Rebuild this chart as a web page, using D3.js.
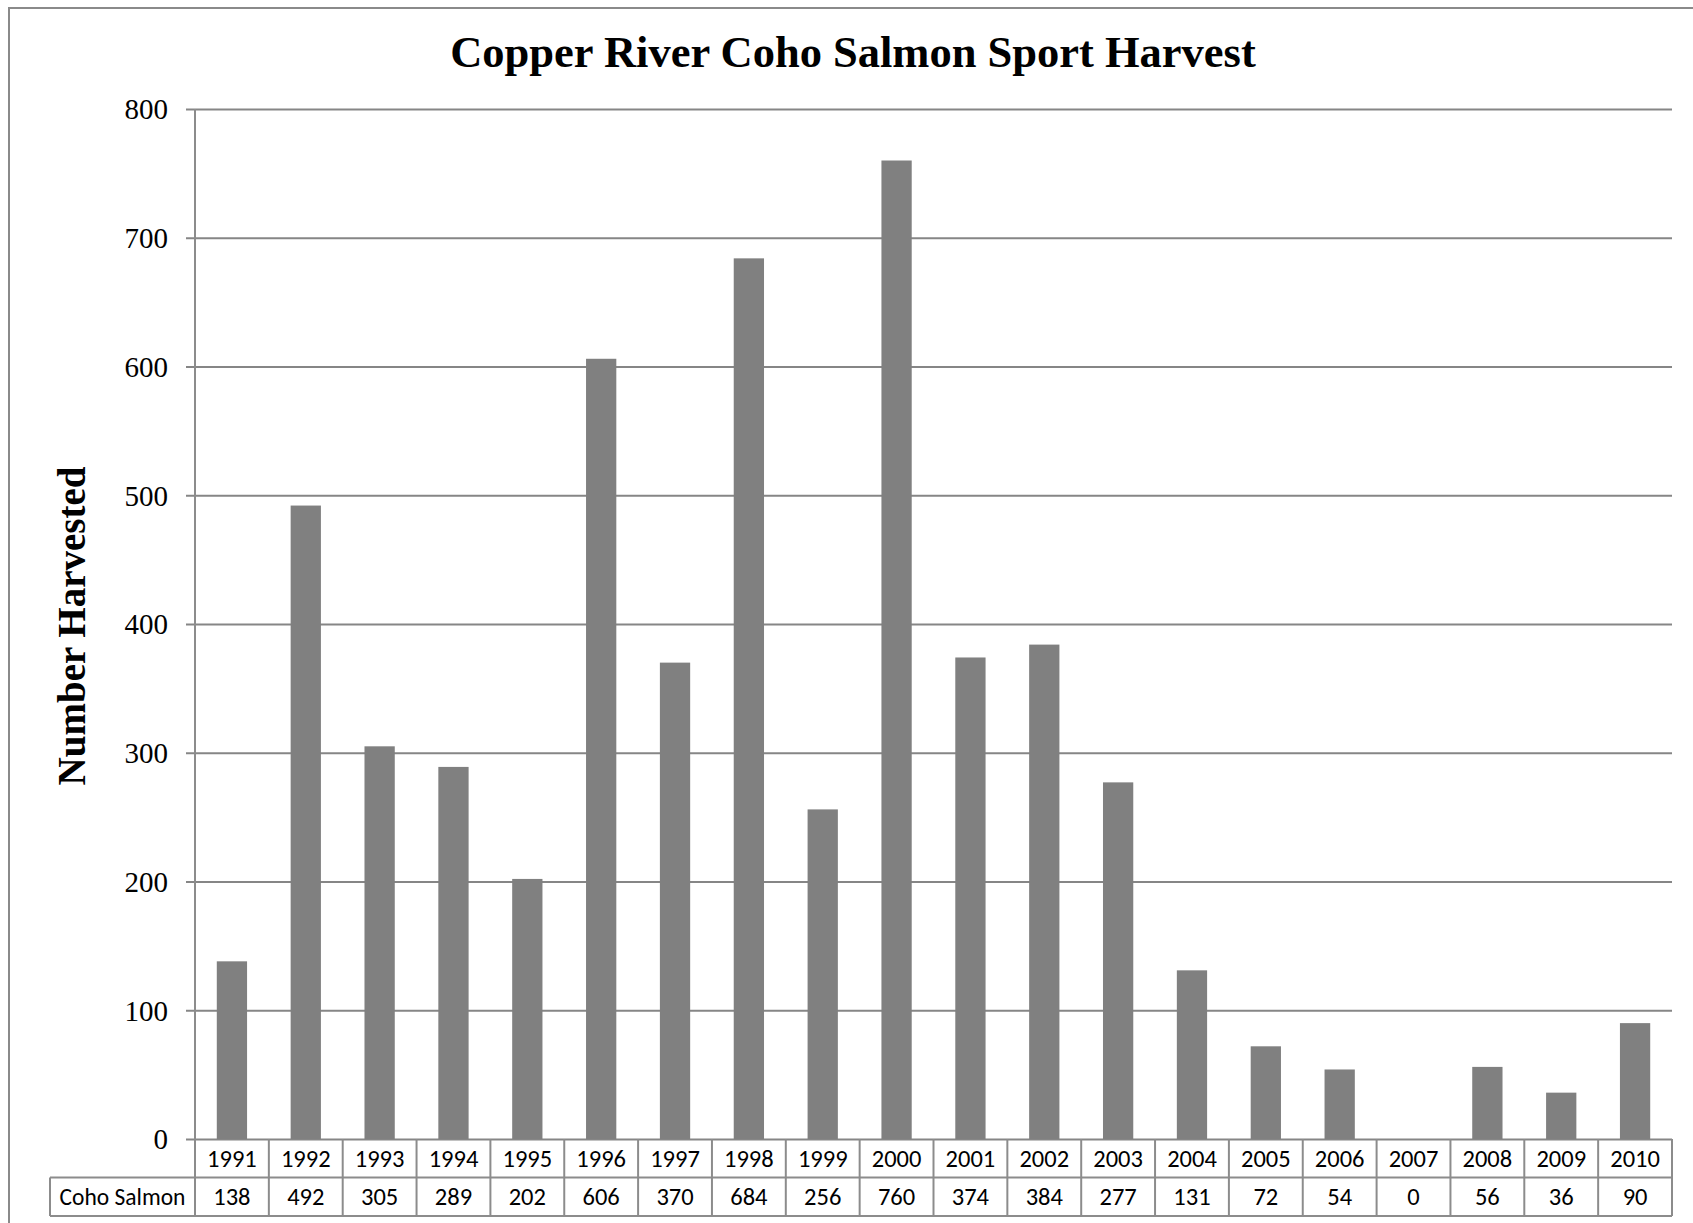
<!DOCTYPE html>
<html>
<head>
<meta charset="utf-8">
<script src="https://cdnjs.cloudflare.com/ajax/libs/d3/7.8.5/d3.min.js"></script>
<style>
	body { margin: 0; background: #fff; }
	.title, .ylabel { font-family: "Liberation Serif", "Times New Roman", serif; font-weight: bold; fill: #000; }
	.yaxis text { font-family: "Liberation Serif", "Times New Roman", serif; font-size: 29px; fill: #000; }
	.yaxis line { stroke: #868686; stroke-width: 2px; }
	.yaxis .domain { display: none; }
	.cell { font-family: Carlito, Lato, "Open Sans", sans-serif; font-size: 24.5px; fill: #000; }
	.tline { stroke: #8c8c8c; stroke-width: 2px; }
</style>
</head>
<body>
<svg id="chart"></svg>
<script>
var years = ["1991", "1992", "1993", "1994", "1995", "1996", "1997", "1998", "1999", "2000",
	"2001", "2002", "2003", "2004", "2005", "2006", "2007", "2008", "2009", "2010"];
var harvest = [138, 492, 305, 289, 202, 606, 370, 684, 256, 760,
	374, 384, 277, 131, 72, 54, 0, 56, 36, 90];
var yTicks = [0, 100, 200, 300, 400, 500, 600, 700, 800];
var seriesName = "Coho Salmon";
var chartTitle = "Copper River Coho Salmon Sport Harvest";
var yTitle = "Number Harvested";

var W = 1693, H = 1223,
	plotL = 195, plotR = 1672, plotT = 109, plotB = 1139,
	rowH = 38.5;

var svg = d3.select("#chart").attr("width", W).attr("height", H);

// outer frame (runs off the right and bottom edge like the original)
svg.append("rect")
	.attr("x", 9).attr("y", 8)
	.attr("width", W + 20).attr("height", H + 20)
	.attr("fill", "none").attr("stroke", "#8a8a8a").attr("stroke-width", 2);

var x = d3.scaleBand().domain(years).range([plotL, plotR]).padding(0),
	y = d3.scaleLinear().domain([0, 800]).range([plotB, plotT]);

// gridlines + tick labels
svg.append("g")
	.attr("class", "yaxis")
	.attr("transform", "translate(186,0)")
	.call(d3.axisLeft(y).tickValues(yTicks).tickSizeInner(-(plotR - 186)).tickSizeOuter(0).tickPadding(18))
	.selectAll("text").attr("dy", "0.34em");

svg.append("line").attr("class", "tline")
	.attr("x1", plotL).attr("x2", plotL).attr("y1", plotT).attr("y2", plotB + 2 * rowH);

// bars
var barW = x.bandwidth() * 0.41;
svg.append("g").selectAll("rect")
	.data(harvest)
	.enter().append("rect")
		.attr("x", function(d, i) { return x(years[i]) + (x.bandwidth() - barW) / 2; })
		.attr("y", function(d) { return y(d); })
		.attr("width", barW)
		.attr("height", function(d) { return y(0) - y(d); })
		.attr("fill", "#808080");

// data table under the axis
var tbl = svg.append("g");
[plotB + rowH, plotB + 2 * rowH].forEach(function(yy) {
	tbl.append("line").attr("class", "tline")
		.attr("x1", 50).attr("x2", plotR).attr("y1", yy).attr("y2", yy);
});
tbl.append("line").attr("class", "tline")
	.attr("x1", 50).attr("x2", 50).attr("y1", plotB + rowH).attr("y2", plotB + 2 * rowH);
tbl.selectAll(".vline")
	.data(years)
	.enter().append("line")
		.attr("class", "tline vline")
		.attr("x1", function(d) { return x(d) + x.bandwidth(); })
		.attr("x2", function(d) { return x(d) + x.bandwidth(); })
		.attr("y1", plotB).attr("y2", plotB + 2 * rowH);

tbl.selectAll(".yr")
	.data(years)
	.enter().append("text")
		.attr("class", "cell yr")
		.attr("x", function(d) { return x(d) + x.bandwidth() / 2; })
		.attr("y", plotB + rowH / 2)
		.attr("dy", "0.35em")
		.attr("text-anchor", "middle")
		.text(function(d) { return d; });

tbl.selectAll(".val")
	.data(harvest)
	.enter().append("text")
		.attr("class", "cell val")
		.attr("x", function(d, i) { return x(years[i]) + x.bandwidth() / 2; })
		.attr("y", plotB + rowH * 1.5)
		.attr("dy", "0.35em")
		.attr("text-anchor", "middle")
		.text(function(d) { return d; });

tbl.append("text")
	.attr("class", "cell")
	.attr("x", (50 + plotL) / 2)
	.attr("y", plotB + rowH * 1.5)
	.attr("dy", "0.35em")
	.attr("text-anchor", "middle")
	.style("font-size", "23.5px")
	.text(seriesName);

// titles
svg.append("text")
	.attr("class", "title")
	.attr("x", 853).attr("y", 67)
	.attr("text-anchor", "middle")
	.style("font-size", "44.5px")
	.text(chartTitle);

svg.append("text")
	.attr("class", "ylabel")
	.attr("transform", "translate(85,626) rotate(-90)")
	.attr("text-anchor", "middle")
	.style("font-size", "39px")
	.text(yTitle);
</script>
</body>
</html>
